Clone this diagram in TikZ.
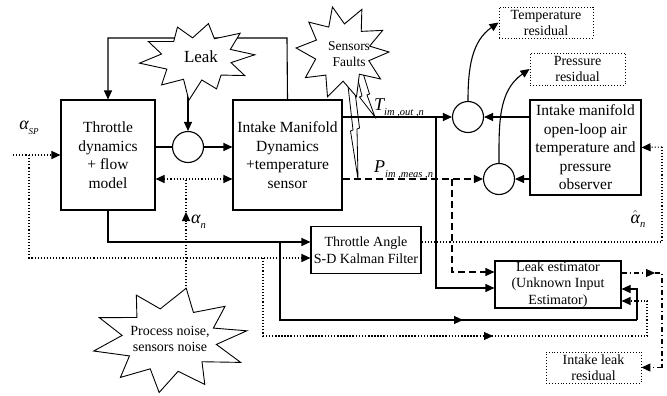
\documentclass[tikz,border=0pt]{standalone}
\usepackage{fontspec}
\setmainfont{Liberation Serif}
\usetikzlibrary{arrows.meta,backgrounds,calc}
\newcommand{\mysub}[2]{{\itshape #1}{\fontsize{10.5}{11}\selectfont\itshape\raisebox{-4.5pt}{#2}}}
\begin{document}
\begin{tikzpicture}[x=1pt,y=-1pt,
  box/.style={draw,line width=1.1pt,align=center,inner sep=0pt,fill=white},
  bigtxt/.style={font=\fontsize{15.5}{18.5}\selectfont},
  smalltxt/.style={font=\fontsize{14}{16.5}\selectfont},
  resbox/.style={draw,dotted,line width=0.9pt,align=center,inner sep=0pt,font=\fontsize{14}{16}\selectfont},
  sumc/.style={draw,circle,line width=1.1pt,minimum size=31pt,inner sep=0pt,fill=white},
  burstln/.style={draw,fill=white,line width=0.9pt,line join=miter},
  bursttxt/.style={align=center,inner sep=0pt},
  ln/.style={line width=1.1pt},
  dl/.style={line width=1.1pt,dotted},
  dsh/.style={line width=1.1pt,dash pattern=on 7pt off 4pt},
  dd/.style={line width=1.1pt,dash pattern=on 5pt off 3pt on 1.2pt off 3pt},
  tip/.style={-{Triangle[length=9pt,width=8pt]}},
  both/.style={{Triangle[length=9pt,width=8pt]}-{Triangle[length=9pt,width=8pt]}},
  lbl/.style={font=\fontsize{18}{20}\selectfont,inner sep=1pt}
]
\useasboundingbox (0,0) rectangle (667,396);

% blocks
\node[box,bigtxt,minimum width=94pt,minimum height=110pt] (thr) at (108,155) {Throttle\\dynamics\\+ flow\\model};
\node[box,bigtxt,minimum width=109pt,minimum height=110pt] (imd) at (287.5,155) {Intake Manifold\\Dynamics\\+temperature\\sensor};
\node[box,bigtxt,minimum width=111pt,minimum height=95pt] (obs) at (585.5,147.5) {Intake manifold\\open-loop air\\temperature and\\pressure\\observer};
\node[box,smalltxt,minimum width=110pt,minimum height=47pt] (kal) at (366,250) {Throttle Angle\\S-D Kalman Filter};
\node[box,smalltxt,minimum width=126pt,minimum height=47pt] (lest) at (558,284.5) {Leak estimator\\(Unknown Input\\Estimator)};
\node[resbox,minimum width=94pt,minimum height=31pt] (tres) at (546,22.5) {Temperature\\residual};
\node[resbox,minimum width=95pt,minimum height=32pt] (pres) at (577.5,69) {Pressure\\residual};
\node[resbox,minimum width=95pt,minimum height=31pt] (ires) at (593.5,367.5) {Intake leak\\residual};

% summing circles
\node[sumc] (s1) at (188,147) {};
\node[sumc] (tc) at (468,117) {};
\node[sumc] (pc) at (499,179) {};

% bursts (drawn directly)
\draw[burstln,shift={(197,58)},x=58pt,y=-37pt]
  (-5:1.0) -- (12:0.6) -- (30:0.95) -- (48:0.62) -- (68:0.9) -- (82:0.6) -- (97:1.15) -- (112:0.62) -- (130:0.95) -- (150:0.6) -- (172:1.0) -- (190:0.62) -- (208:0.95) -- (228:0.6) -- (248:0.9) -- (262:0.55) -- (282:0.95) -- (300:0.6) -- (318:1.0) -- (338:0.62) -- cycle;
\node[bursttxt,font=\fontsize{17}{19}\selectfont] (leak) at (201,57) {Leak};

\draw[burstln,shift={(342,52)},x=47pt,y=-47pt]
  (0:1.0) -- (18:0.6) -- (35:1.0) -- (52:0.6) -- (72:1.0) -- (88:0.62) -- (108:1.0) -- (125:0.6) -- (145:0.95) -- (165:0.58) -- (185:0.98) -- (205:0.6) -- (222:0.95) -- (242:0.6) -- (258:0.98) -- (275:0.6) -- (295:1.0) -- (313:0.6) -- (332:0.98) -- (348:0.6) -- cycle;
\node[bursttxt,font=\fontsize{13.5}{15.5}\selectfont] (sf) at (349,54) {Sensors\\Faults};

\draw[burstln,shift={(170,340)},x=78pt,y=-53pt]
  (-10:1.0) -- (8:0.6) -- (25:1.0) -- (45:0.58) -- (62:0.95) -- (80:0.6) -- (98:1.0) -- (115:0.6) -- (132:0.95) -- (150:0.6) -- (168:1.0) -- (188:0.62) -- (205:1.0) -- (225:0.6) -- (243:0.95) -- (258:0.6) -- (282:1.0) -- (300:0.6) -- (318:0.95) -- (338:0.6) -- cycle;
\node[bursttxt,font=\fontsize{14}{16.5}\selectfont] (noise) at (170,339) {Process noise,\\sensors noise};

% coordinates for free ends / corners
\coordinate (tl) at (imd.east |- tc);
\coordinate (pl) at (imd.east |- pc);
\coordinate (an) at (186,179);
\coordinate (antip) at (186,212);
\coordinate (asp) at (13,155);

\begin{scope}[on background layer]
  % top loop behind leak burst
  \draw[ln,tip] (imd.north) -- (287,38) -| (thr.north);
  % leak into sum
  \draw[ln,tip] (s1 |- leak) -- (s1.north);
  % process noise
  \draw[dl] (noise.center -| an) -- (an);
  \draw[dl,tip] (noise.center -| antip) -- (antip);
  % bolts
  \draw[line width=0.8pt,fill=white] (346,68) -- (353,130) -- (350.5,131) -- (358,179) -- (357,129) -- (359.5,128) -- (352,68) -- cycle;
  \draw[line width=0.8pt,fill=white] (356,72) -- (362,96) -- (359.5,97) -- (375,117) -- (367,95) -- (369.5,94) -- (362,70) -- cycle;
\end{scope}
\node[lbl,anchor=west] at (190,222) {\mysub{α}{n}};

% throttle -> sum -> intake
\draw[ln] (s1 -| thr.east) -- (s1.west);
\draw[ln,tip] (s1.east) -- (s1 -| imd.west);
\draw[dl,both] (an -| thr.east) -- (an -| imd.west);

% alpha_SP input
\draw[dl,tip] (asp) -- (asp -| thr.west);
\node[lbl] at (29,128) {\mysub{α}{\fontsize{9}{10}\selectfont SP}};
\draw[dl,tip] (29,155) |- ($(kal.west)+(0,8)$);
\draw[dl] (263,258) -- (263,336) -- (647,336);
\draw[dl,tip] (263,336) -- (493,336);
\draw[dl,tip] (647,336) |- ($(lest.east)+(0,16.5)$);

% throttle -> Kalman
\draw[ln,tip] (thr.south) |- ($(kal.west)+(0,-8)$);
\draw[ln] (280,242) -- (280,320) -- (637,320);
\draw[ln,tip] (280,320) -- (463,320);
\draw[ln,tip] (637,320) |- ($(lest.east)+(0,4.5)$);

% Kalman output
\draw[dl] ($(kal.east)+(0,-8)$) -- (662,242) -- (662,147);
\draw[dl,tip] (662,147) -- (obs.east);
\node[lbl] at (638,219) {$\hat{\hbox{\itshape α}}$\mysub{}{n}};

% temperature path
\draw[ln,tip] (tl) -- (tc.west);
\node[lbl,anchor=south west] at (373,118) {\mysub{T}{im ,out ,n}};
\draw[ln,tip] (tc.east -| obs.west) -- (tc.east);
\draw[ln,tip] (436,117) |- ($(lest.west)+(0,3.5)$);

% pressure path
\draw[dsh,tip] (pl) -- (pc.west);
\node[lbl,anchor=south west] at (373,180) {\mysub{P}{im ,meas ,n}};
\draw[ln,tip] (pc.east -| obs.west) -- (pc.east);
\draw[dsh,tip] (452,179) |- ($(lest.west)+(0,-12.5)$);

% residual curves
\draw[ln,tip] (tc.north) to[out=90,in=215] (tres.west);
\draw[ln,tip] (pc.north) to[out=90,in=215] (pres.west);

% leak estimator output
\draw[dd,tip] ($(lest.east)+(0,-11.5)$) -- (655,273);
\draw[dd] (655,273) -- (662,273) -- (662,367.5);
\draw[dd,tip] (662,367.5) -- (ires.east);
\end{tikzpicture}
\end{document}
